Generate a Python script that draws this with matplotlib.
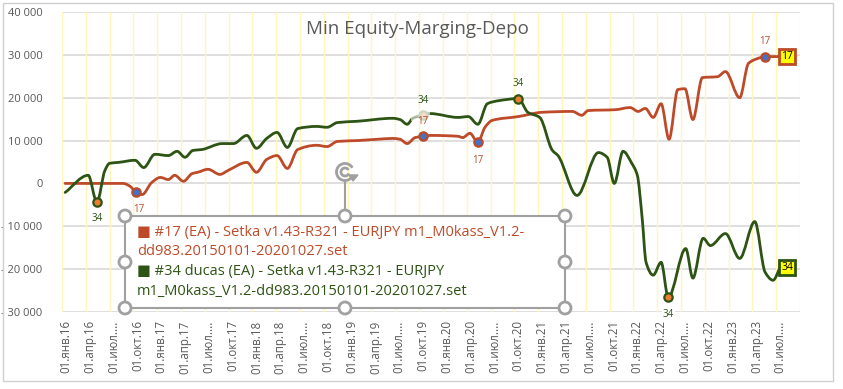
import matplotlib
matplotlib.use("Agg")
import matplotlib.pyplot as plt
import matplotlib.transforms as mtransforms
from matplotlib.path import Path
from matplotlib.patches import PathPatch, Rectangle, Circle, Arc, Polygon
import numpy as np

plt.rcParams['font.family'] = ['Open Sans', 'DejaVu Sans']

# x = months counted from 01.01.2016, y = min equity
months_17 = [0.4, 7.7, 8.6, 9.3, 10.1, 11.3, 12.4, 13.4, 14.2, 15.3,
             16.4, 17.1, 18.4, 19.9, 20.9, 23.3, 24.5, 25.8, 27.1, 28.4,
             29.7, 32.1, 33.4, 34.7, 37.2, 39.7, 41.7, 42.6, 43.5, 44.5,
             45.5, 46.4, 49.9, 50.5, 51.4, 52.4, 53.3, 54.2, 57.5, 60.5,
             64.3, 65.5, 66.3, 69.7, 71.6, 72.6, 73.5, 74.5, 75.5, 76.5,
             77.6, 78.5, 79.5, 80.7, 82.6, 83.6, 85.4, 86.5, 87.6, 88.6,
             90.5]
equity_17 = [0, 0, -700, -2100, -2600, 200, 1400, 900, 1900, 500,
             2300, 2600, 3300, 2100, 3000, 4900, 2600, 5600, 6500, 3500,
             7900, 8900, 8600, 9800, 10000, 10300, 10500, 10300, 9300, 10700,
             11000, 11200, 11000, 10700, 11700, 9600, 13100, 14700, 15600, 16600,
             16800, 15900, 17000, 17200, 17700, 16800, 17500, 15400, 18600, 10300,
             21900, 22100, 14900, 24700, 24900, 26100, 20000, 28000, 29100, 29600,
             29600]

months_34 = [0.4, 3.3, 4.4, 5.4, 6.0, 7.1, 9.2, 10.3, 11.7, 13.4,
             14.5, 15.5, 16.5, 17.6, 20.2, 21.6, 23.3, 24.5, 25.8, 27.1,
             28.4, 29.7, 32.1, 33.4, 34.7, 37.2, 41.7, 42.6, 43.5, 44.2,
             45.5, 46.4, 49.9, 51.2, 52.4, 53.6, 55.0, 57.5, 58.7, 60.2,
             61.8, 62.5, 64.9, 67.6, 68.7, 69.6, 70.7, 71.8, 72.5, 73.1,
             73.6, 74.5, 75.5, 76.4, 78.6, 79.5, 80.8, 81.7, 83.6, 85.4,
             87.3, 88.6, 89.6, 90.5]
equity_34 = [-2100, 1900, -4400, 3000, 4700, 4900, 5400, 3700, 6800, 6500,
             7500, 6100, 7700, 7900, 9300, 9300, 11200, 8200, 10500, 11900,
             8400, 12800, 13300, 13100, 14200, 14500, 15200, 14900, 13800, 15200,
             15900, 16300, 15400, 15600, 13800, 18600, 19300, 19800, 16600, 15400,
             7700, 6500, -2800, 7200, 6100, 0, 7500, 4700, 1900, -7900,
             -18400, -21400, -18400, -26600, -15200, -22100, -12800, -14500, -11700, -17500,
             -8900, -20700, -22600, -19600]

# indices of points that carry a marker + label
marked_17 = [3, 30, 35, 59]
marked_34 = [2, 30, 37, 53]

quarter_labels = []
for yy in range(16, 24):
    for mon in ['янв', 'апр', 'июл', 'окт']:
        if mon == 'июл':
            quarter_labels.append('01.июл....')
        else:
            quarter_labels.append('01.%s.%d' % (mon, yy))
quarter_labels = quarter_labels[:31]

y_ticks = [-30000, -20000, -10000, 0, 10000, 20000, 30000, 40000]
y_labels = ['- 30 000', '- 20 000', '- 10 000', '0', '10 000', '20 000', '30 000', '40 000']

legend_lines = [('■ #17 (EA) - Setka v1.43-R321 - EURJPY m1_M0kass_V1.2-', 'r'),
                ('dd983.20150101-20201027.set', 'r'),
                ('■ #34 ducas (EA) - Setka v1.43-R321 - EURJPY', 'g'),
                ('m1_M0kass_V1.2-dd983.20150101-20201027.set', 'g')]

RED = '#BD4A29'
GREEN = '#2D5414'
GREY = '#595959'
W, H = 843, 389


def smooth_path(xs, ys):
    # monotone cubic (pchip-like) curve through the points, as bezier segments
    xs = np.asarray(xs, float)
    ys = np.asarray(ys, float)
    h = np.diff(xs)
    d = np.diff(ys) / h
    m = np.zeros_like(ys)
    m[0], m[-1] = d[0], d[-1]
    for k in range(1, len(xs) - 1):
        if d[k - 1] * d[k] > 0:
            w1 = 2 * h[k] + h[k - 1]
            w2 = h[k] + 2 * h[k - 1]
            m[k] = (w1 + w2) / (w1 / d[k - 1] + w2 / d[k])
    verts = [(xs[0], ys[0])]
    codes = [Path.MOVETO]
    for k in range(len(xs) - 1):
        t = h[k] / 3
        verts += [(xs[k] + t, ys[k] + m[k] * t),
                  (xs[k + 1] - t, ys[k + 1] - m[k + 1] * t),
                  (xs[k + 1], ys[k + 1])]
        codes += [Path.CURVE4] * 3
    return Path(verts, codes)


fig = plt.figure(figsize=(W / 100, H / 100), dpi=100)
ax = fig.add_axes([62 / W, 1 - 312 / H, 738 / W, 300 / H])
ax.set_xlim(0, 93)
ax.set_ylim(-30000, 40000)
for s in ax.spines.values():
    s.set_visible(False)

ax.set_yticks(y_ticks)
ax.set_yticklabels(y_labels, fontsize=8, color=GREY)
ax.set_xticks(np.arange(0, 93, 3))
ax.set_xticklabels(quarter_labels, rotation=90, fontsize=8.3, color=GREY, va='top')
ax.tick_params(length=0, pad=6)
ax.tick_params(axis='y', pad=14)
shift = mtransforms.ScaledTranslation(4 / 100, 0, fig.dpi_scale_trans)
for lab in ax.get_xticklabels():
    lab.set_transform(lab.get_transform() + shift)

for y in y_ticks:
    ax.axhline(y, color='#D9D9D9', lw=1.2, zorder=0)
for x in range(0, 94, 3):
    ax.axvline(x, color='#FFF6B8', lw=1, zorder=0)

for mx, vy, col in [(months_17, equity_17, RED), (months_34, equity_34, GREEN)]:
    ax.add_patch(PathPatch(smooth_path(mx, vy), fill=False, edgecolor=col,
                           lw=2, capstyle='round', joinstyle='round', zorder=3))

# pale (selected) piece of the green line
ax.add_patch(Rectangle((44.0, 14600), 2.4, 2800, facecolor='white', alpha=0.6,
                       edgecolor='none', zorder=4))

for i in marked_17:
    ax.plot(months_17[i], equity_17[i], 'o', ms=6, mfc='#4472C4', mec=RED, mew=1.6, zorder=5)
for i in marked_34:
    if i == 30:
        ax.plot(months_34[i], equity_34[i], 'o', ms=6, mfc='#F4DCCC', mec='#C9D6C0', mew=1.6, zorder=5)
    else:
        ax.plot(months_34[i], equity_34[i], 'o', ms=6, mfc='#ED7D31', mec=GREEN, mew=1.6, zorder=5)

# label offsets in pixels (dy positive = up)
offs_17 = {3: (3, -17), 30: (0, 15), 35: (0, -18), 59: (0, 15)}
offs_34 = {2: (0, -16), 30: (0, 15), 37: (0, 15), 53: (0, -17)}
for i, (dx, dy) in offs_17.items():
    ax.annotate('17', (months_17[i], equity_17[i]), xytext=(dx, dy), textcoords='offset pixels',
                ha='center', va='center', fontsize=7, color=RED, zorder=6)
for i, (dx, dy) in offs_34.items():
    bb = dict(boxstyle='square,pad=0.1', fc='white', ec='none') if i == 53 else None
    ax.annotate('34', (months_34[i], equity_34[i]), xytext=(dx, dy), textcoords='offset pixels',
                ha='center', va='center', fontsize=7, color=GREEN, zorder=6, bbox=bb)

for mx, vy, col, txt in [(months_17, equity_17, RED, '17'), (months_34, equity_34, GREEN, '34')]:
    ax.annotate(txt, (mx[-1], vy[-1]), xytext=(7, 0), textcoords='offset pixels',
                ha='center', va='center', fontsize=7.5, color='black', zorder=7,
                bbox=dict(boxstyle='square,pad=0.2', fc='#FFFF00', ec=col, lw=2))

# overlay in pixel coordinates: chart border, selected legend with handles
ov = fig.add_axes([0, 0, 1, 1], zorder=10)
ov.set_xlim(0, W)
ov.set_ylim(H, 0)
ov.axis('off')
ov.patch.set_alpha(0)
ov.add_patch(Rectangle((3, 3), 830, 378, fill=False, ec='#D0D0D0', lw=1))

fig.text(417 / W, 1 - 29 / H, 'Min Equity-Marging-Depo', ha='center', va='center',
         fontsize=13.5, color=GREY)

HC = '#A0A0A0'
ov.add_patch(Rectangle((125, 216), 440, 92, fc='white', ec=HC, lw=1.5))
for i, (txt, c) in enumerate(legend_lines):
    ov.text(137, 232 + i * 19.8, txt, ha='left', va='center',
            fontsize=10.5, color=RED if c == 'r' else GREEN)
for hx, hy in [(125, 216), (345, 216), (565, 216), (125, 262), (565, 262),
               (125, 308), (345, 308), (565, 308)]:
    ov.add_patch(Circle((hx, hy), 6, fc='white', ec=HC, lw=2))
ov.plot([345, 345], [181, 210], color=HC, lw=1.5)
ov.add_patch(Arc((345, 172), 17, 17, theta1=20, theta2=330, color=HC, lw=2))
ov.add_patch(Arc((345, 172), 8, 8, theta1=20, theta2=330, color=HC, lw=2))
ov.add_patch(Polygon([[349, 175], [358, 175], [353, 181]], closed=True, fc=HC, ec=HC, lw=1))

fig.savefig('out.png', dpi=100)
